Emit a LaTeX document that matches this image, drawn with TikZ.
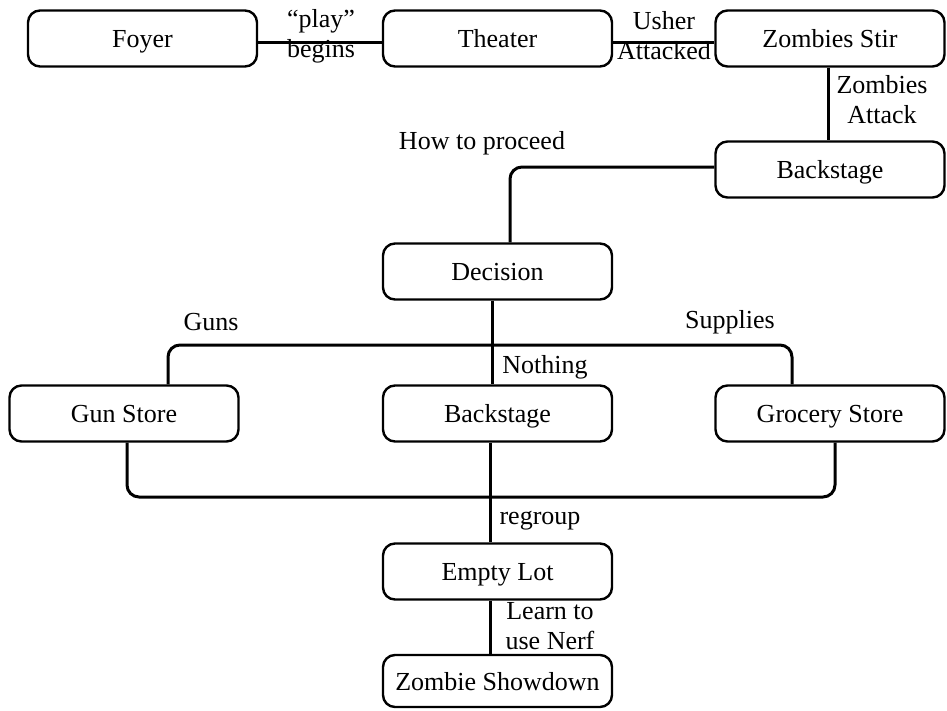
\documentclass[tikz,border=0pt]{standalone}
\usepackage{fontspec}
\setmainfont{Liberation Serif}
\begin{document}
\begin{tikzpicture}[x=1pt,y=-1pt,
  box/.style={draw,line width=2.4pt,rounded corners=12pt,minimum width=229pt,minimum height=56pt,inner sep=0pt,text height=20pt,text depth=2pt,font=\fontsize{26}{28}\selectfont},
  lbl/.style={inner sep=0pt,font=\fontsize{26}{30}\selectfont,align=center},
  conn/.style={line width=3pt,rounded corners=12pt}]
\useasboundingbox (0,0) rectangle (947,710);
\node[box] (foyer) at (142.5,38.5) {Foyer};
\node[box] (theater) at (497.5,38.5) {Theater};
\node[box] (stir) at (830,38.5) {Zombies Stir};
\node[box] (back1) at (830,169.5) {Backstage};
\node[box] (decision) at (497.5,271.5) {Decision};
\node[box] (gun) at (124,413.5) {Gun Store};
\node[box] (back2) at (497.5,413.5) {Backstage};
\node[box] (groc) at (830,413.5) {Grocery Store};
\node[box] (lot) at (497.5,571.5) {Empty Lot};
\node[box,minimum height=52pt] (show) at (497.5,681) {Zombie Showdown};
\coordinate (j) at (492,345);
\coordinate (k) at (490,497);
\draw[conn] ([yshift=-4pt]foyer.east) -- ([yshift=-4pt]theater.west);
\draw[conn] ([yshift=-4pt]theater.east) -- ([yshift=-4pt]stir.west);
\draw[conn] ([xshift=-2pt]stir.south) -- ([xshift=-2pt]back1.north);
\draw[conn] ([yshift=2.5pt]back1.west) -| ([xshift=12.5pt]decision.north);
\draw[conn] ([xshift=-5.5pt]decision.south) -- ([xshift=-5.5pt]back2.north);
\draw[conn] ([xshift=44pt]gun.north) |- (j) -| ([xshift=-38pt]groc.north);
\draw[conn] ([xshift=3pt]gun.south) |- (k) -| ([xshift=5pt]groc.south);
\draw[conn] ([xshift=-7.5pt]back2.south) -- ([xshift=-7.5pt]lot.north);
\draw[conn] ([xshift=-7.5pt]lot.south) -- ([xshift=-7.5pt]show.north);
\node[lbl] (l1) at (321,36) {``play''\\begins};
\node[lbl] (l2) at (664,36) {Usher\\Attacked};
\node[lbl] (l3) at (882,100) {Zombies\\Attack};
\node[lbl] (l4) at (482,143) {How to proceed};
\node[lbl] (l5) at (211,322) {Guns};
\node[lbl] (l6) at (730,322) {Supplies};
\node[lbl] (l7) at (545,367) {Nothing};
\node[lbl] (l8) at (540,521) {regroup};
\node[lbl] (l9) at (550,626) {Learn to\\use Nerf};
\end{tikzpicture}
\end{document}
